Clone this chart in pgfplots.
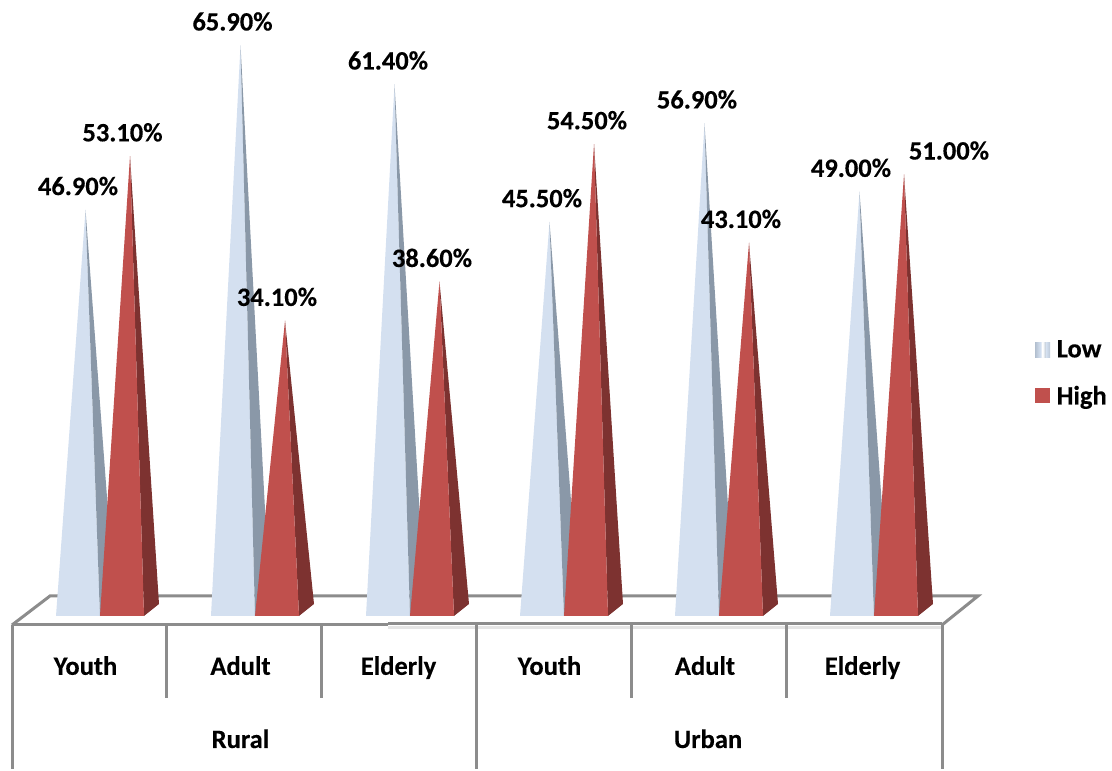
\documentclass[border=0pt]{standalone}
\usepackage{pgfplots}
\usepackage{fontspec}
\setmainfont{Carlito}[BoldFeatures={FakeBold=0.3}]
\pgfplotsset{compat=1.18}
\definecolor{lowfront}{HTML}{D4E0F0}
\definecolor{lowside}{HTML}{8A98A8}
\definecolor{highfront}{HTML}{C0504D}
\definecolor{highside}{HTML}{7D3230}
\definecolor{frameline}{HTML}{8C8C8C}
\pgfplotstableread{
x      y     label
78     46.9  46.90\%
122.5  53.1  53.10\%
232.5  65.9  65.90\%
277    34.1  34.10\%
388    61.4  61.40\%
432    38.6  38.60\%
542    45.5  45.50\%
587    54.5  54.50\%
697    56.9  56.90\%
741    43.1  43.10\%
851    49.0  49.00\%
949    51.0  51.00\%
}\valuelabels
\newcommand{\labelfont}{\fontsize{26.5}{30}\selectfont\bfseries}
\tikzset{catname/.style={anchor=center, font=\labelfont, text height=17pt, text depth=5pt, inner sep=0pt}}
\begin{document}
\begin{tikzpicture}
\begin{axis}[
  scale only axis, width=1112pt, height=769pt,
  xmin=0, xmax=1112, ymin=-17.667, ymax=71.13,
  hide axis, clip=false,
  legend style={draw=none, fill=none, at={(axis cs:1035,32.1)}, anchor=north west,
    font=\labelfont,
    row sep=23pt, inner sep=0pt, /tikz/every even column/.append style={column sep=0pt}},
  legend cell align=left,
  frame/.style={draw=frameline, line width=3pt, line cap=butt, line join=miter, forget plot},
  lowF/.style={fill=lowfront, draw=none, forget plot},
  lowS/.style={fill=lowside, draw=none, forget plot},
  highF/.style={fill=highfront, draw=none, forget plot},
  highS/.style={fill=highside, draw=none, forget plot},
]
\path (axis cs:0,-17.667) rectangle (axis cs:1112,71.13);

% floor of the 3D box, with the pale band under its front edge
\addplot[draw=black!10, line width=2.5pt, forget plot] coordinates {(388,-1.33) (942,-1.33)};
\addplot[frame] coordinates {(12,-1.04) (388,-1.04)};
\addplot[frame] coordinates {(388,-0.9) (942,-0.9)};
\addplot[frame] coordinates {(942,-1.04) (978,2.31) (50,2.31) (12,-1.04)};

% category separators below the floor
\addplot[frame] coordinates {(12,-1.04) (12,-17.667)};
\addplot[frame] coordinates {(166,-1.04) (166,-9.47)};
\addplot[frame] coordinates {(321,-1.04) (321,-9.47)};
\addplot[frame] coordinates {(476,-1.04) (476,-17.667)};
\addplot[frame] coordinates {(631,-1.04) (631,-9.47)};
\addplot[frame] coordinates {(786,-1.04) (786,-9.47)};
\addplot[frame] coordinates {(942,-1.04) (942,-17.667)};

% Rural / Youth
\addplot[lowF] coordinates {(56,0) (100,0) (85.5,46.9)} --cycle;
\addplot[lowS] coordinates {(100,0) (115,1.39) (85.5,46.9)} --cycle;
\addplot[highS] coordinates {(144,0) (159,1.39) (130,53.1)} --cycle;
\addplot[highF] coordinates {(100,0) (144,0) (130,53.1)} --cycle;
% Rural / Adult
\addplot[lowF] coordinates {(211,0) (255,0) (240.5,65.9)} --cycle;
\addplot[lowS] coordinates {(255,0) (270,1.39) (240.5,65.9)} --cycle;
\addplot[highS] coordinates {(299,0) (314,1.39) (285,34.1)} --cycle;
\addplot[highF] coordinates {(255,0) (299,0) (285,34.1)} --cycle;
% Rural / Elderly
\addplot[lowF] coordinates {(366,0) (410,0) (394.5,61.4)} --cycle;
\addplot[lowS] coordinates {(410,0) (425,1.39) (394.5,61.4)} --cycle;
\addplot[highS] coordinates {(454,0) (469,1.39) (439.5,38.6)} --cycle;
\addplot[highF] coordinates {(410,0) (454,0) (439.5,38.6)} --cycle;
% Urban / Youth
\addplot[lowF] coordinates {(520,0) (564,0) (549.5,45.5)} --cycle;
\addplot[lowS] coordinates {(564,0) (579,1.39) (549.5,45.5)} --cycle;
\addplot[highS] coordinates {(608,0) (623,1.39) (594,54.5)} --cycle;
\addplot[highF] coordinates {(564,0) (608,0) (594,54.5)} --cycle;
% Urban / Adult
\addplot[lowF] coordinates {(675,0) (719,0) (704.5,56.9)} --cycle;
\addplot[lowS] coordinates {(719,0) (734,1.39) (704.5,56.9)} --cycle;
\addplot[highS] coordinates {(763,0) (778,1.39) (749,43.1)} --cycle;
\addplot[highF] coordinates {(719,0) (763,0) (749,43.1)} --cycle;
% Urban / Elderly
\addplot[lowF] coordinates {(830,0) (874,0) (859.5,49.0)} --cycle;
\addplot[lowS] coordinates {(874,0) (889,1.39) (859.5,49.0)} --cycle;
\addplot[highS] coordinates {(918,0) (933,1.39) (904,51.0)} --cycle;
\addplot[highF] coordinates {(874,0) (918,0) (904,51.0)} --cycle;

% value labels above the apexes
\addplot[only marks, mark=none, forget plot,
  point meta=explicit symbolic,
  nodes near coords,
  every node near coord/.style={anchor=center, yshift=23.8pt, inner sep=0pt,
    font=\labelfont, text=black},
] table[x=x, y=y, meta=label] {\valuelabels};

% category names
\node[catname] at (axis cs:85.5,-6.1) {Youth};
\node[catname] at (axis cs:240.5,-6.1) {Adult};
\node[catname] at (axis cs:398.5,-6.1) {Elderly};
\node[catname] at (axis cs:549.5,-6.1) {Youth};
\node[catname] at (axis cs:705,-6.1) {Adult};
\node[catname] at (axis cs:862.5,-6.1) {Elderly};
\node[catname] at (axis cs:240.5,-14.55) {Rural};
\node[catname] at (axis cs:708,-14.55) {Urban};

% legend
\addlegendimage{legend image code/.code={
  \shade[draw=none, left color=lowside!45!lowfront, right color=lowfront] (0pt,-7.5pt) rectangle (5pt,7.5pt);
  \shade[draw=none, left color=lowfront, right color=white] (5pt,-7.5pt) rectangle (7.5pt,7.5pt);
  \shade[draw=none, left color=white, right color=lowside!45!lowfront] (7.5pt,-7.5pt) rectangle (11pt,7.5pt);
  \shade[draw=none, left color=lowfront, right color=lowside!35!lowfront] (11pt,-7.5pt) rectangle (15pt,7.5pt);
  \path[draw=none] (15pt,0pt) -- (19.5pt,0pt);
}}
\addlegendentry{Low}
\addlegendimage{legend image code/.code={
  \fill[draw=none, highfront] (0pt,-7.5pt) rectangle (15pt,7.5pt);
  \path[draw=none] (15pt,0pt) -- (19.5pt,0pt);
}}
\addlegendentry{High}
\end{axis}
\end{tikzpicture}
\end{document}
